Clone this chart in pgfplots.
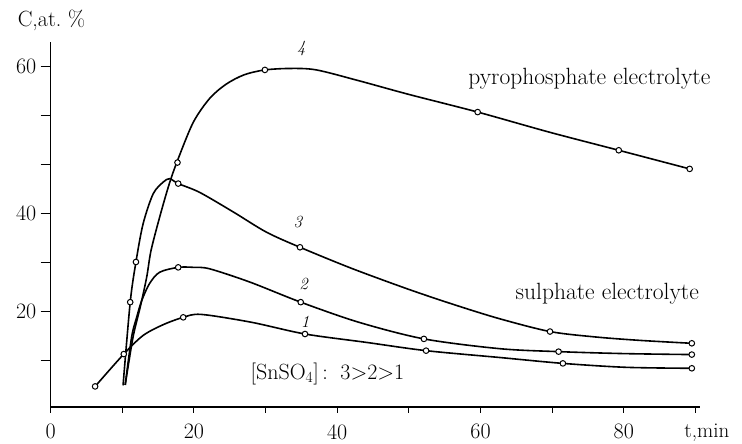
\documentclass[border=0pt]{standalone}
\usepackage{pgfplots}
\pgfplotsset{compat=1.18}

% curve 1 (line knots and marker points)
\pgfplotstableread{
x y
6.2 4.7
10.2 11.3
12.9 15.1
15.7 17.3
18.5 18.8
21.0 19.4
28.0 17.8
35.5 15.4
44.0 13.7
52.4 12.0
62.7 10.6
71.5 9.4
80.3 8.6
89.5 8.4
}\curveA
\pgfplotstableread{
x y
6.2 4.7
10.2 11.3
18.5 18.8
35.5 15.4
52.4 12.0
71.5 9.4
89.5 8.4
}\marksA
% curve 2
\pgfplotstableread{
x y
10.4 5.0
11.3 14.8
12.0 18.8
12.7 22.2
13.8 25.7
15.2 28.0
17.8 29.0
20.0 29.0
22.2 28.7
27.8 26.0
34.9 21.9
43.0 17.8
52.1 14.4
62.7 12.4
70.9 11.8
80.0 11.4
89.5 11.2
}\curveB
\pgfplotstableread{
x y
17.8 29.0
34.9 21.9
52.1 14.4
70.9 11.8
89.5 11.2
}\marksB
% curve 3
\pgfplotstableread{
x y
10.1 4.9
11.1 21.9
11.9 30.1
12.9 37.9
14.3 44.0
15.7 46.4
16.6 47.1
17.8 46.1
20.8 44.3
25.5 40.3
30.1 36.2
34.8 33.1
42.0 28.8
50.0 24.5
56.5 21.3
62.7 18.5
69.7 15.9
76.0 14.8
82.2 14.1
89.5 13.5
}\curveC
\pgfplotstableread{
x y
11.1 21.9
11.9 30.1
17.8 46.1
34.8 33.1
69.7 15.9
89.5 13.5
}\marksC
% curve 4
\pgfplotstableread{
x y
10.4 5.0
11.5 14.8
12.5 20.9
13.4 27.0
14.0 32.4
15.2 39.2
16.5 45.8
17.7 50.8
19.9 58.6
22.2 63.5
24.5 66.4
27.0 68.3
29.9 69.3
33.5 69.6
37.1 69.3
43.0 67.1
50.0 64.3
59.6 60.7
69.6 56.6
79.3 52.9
89.2 49.1
}\curveD
\pgfplotstableread{
x y
17.7 50.4
29.9 69.3
59.6 60.7
79.3 52.9
89.2 49.1
}\marksD

\begin{document}
\begin{tikzpicture}
\begin{axis}[
  name=ax,
  scale only axis, width=649pt, height=365pt,
  xmin=0, xmax=90.6, ymin=0.5, ymax=75,
  axis lines=left,
  every outer x axis line/.append style={-},
  every outer y axis line/.append style={-},
  axis line style={line width=1.3pt, black},
  xtick={0,10,...,90}, xticklabels={0,,20,,40,,60,,80,},
  ytick={10,20,...,70}, yticklabels={,20,,40,,,60},
  tick align=outside,
  xtick style={black, line width=1pt, /pgfplots/major tick length=6pt},
  ytick style={black, line width=1pt, /pgfplots/major tick length=10pt},
  ticklabel style={font=\fontsize{22}{26}\selectfont},
  xticklabel style={yshift=-9pt},
  yticklabel style={xshift=-6pt},
  /pgf/number format/assume math mode=true,
  clip=false,
  line width=1.6pt,
  every axis plot/.append style={black},
]
\addplot[smooth, tension=0.5] table {\curveA};
\addplot[smooth, tension=0.5] table {\curveB};
\addplot[smooth, tension=0.5] table {\curveC};
\addplot[smooth, tension=0.5] table {\curveD};
\addplot[only marks, mark=*, mark size=2.8pt, mark options={fill=white, draw=black, line width=1pt}] table {\marksA};
\addplot[only marks, mark=*, mark size=2.8pt, mark options={fill=white, draw=black, line width=1pt}] table {\marksB};
\addplot[only marks, mark=*, mark size=2.8pt, mark options={fill=white, draw=black, line width=1pt}] table {\marksC};
\addplot[only marks, mark=*, mark size=2.8pt, mark options={fill=white, draw=black, line width=1pt}] table {\marksD};

\node[font=\fontsize{17}{19}\selectfont\itshape] at (axis cs:35.0,73.6) {4};
\node[font=\fontsize{17}{19}\selectfont\itshape] at (axis cs:34.5,38.2) {3};
\node[font=\fontsize{17}{19}\selectfont\itshape] at (axis cs:35.3,25.7) {2};
\node[font=\fontsize{17}{19}\selectfont\itshape] at (axis cs:35.5,17.8) {1};
\node[font=\fontsize{23.5}{26}\selectfont] at (axis cs:75.2,67.5) {pyrophosphate electrolyte};
\node[font=\fontsize{23.5}{26}\selectfont] at (axis cs:77.7,23.7) {sulphate electrolyte};
\node[font=\fontsize{22}{24}\selectfont, anchor=west, inner sep=0pt] at (axis cs:27.8,7.3) {[SnSO\textsubscript{4}]\,:\, 3>2>1};
\node[font=\fontsize{21}{24}\selectfont, anchor=base, inner sep=0pt] at ([yshift=-30.5pt]axis cs:91.6,0.5) {t,min};
\node[font=\fontsize{22}{24}\selectfont, anchor=base west, inner sep=0pt] at ([xshift=-33.7pt, yshift=15.3pt]axis cs:0,75) {C,at.\ \%};
\end{axis}
\pgfresetboundingbox
\path ([shift={(-50.7pt,-37pt)}]ax.south west) rectangle ([shift={(42.3pt,42pt)}]ax.north east);
\end{tikzpicture}
\end{document}
